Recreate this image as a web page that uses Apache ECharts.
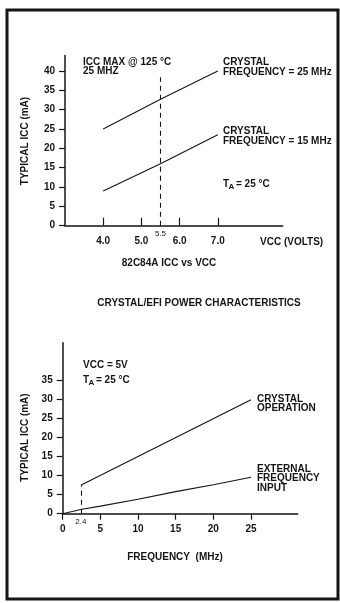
<!DOCTYPE html>
<html>
<head>
<meta charset="utf-8">
<script src="https://cdn.jsdelivr.net/npm/echarts@6/dist/echarts.min.js"></script>
<style>
  html, body { margin: 0; padding: 0; background: #fff; }
  #chart { width: 340px; height: 603px; }
</style>
</head>
<body>
<div id="chart"></div>
<script>
// --- 82C84A ICC vs VCC ---
const vccTicks = [4, 5, 6, 7];
const iccTicksTop = [0, 5, 10, 15, 20, 25, 30, 35, 40];
const crystal25MHz = [[4.0, 25], [5.5, 32.7], [7.0, 40]];
const crystal15MHz = [[4.0, 9], [5.5, 16], [7.0, 23.5]];
const vccMaxMark = 5.5;
const vccMaxMarkTop = 38.4;

// --- Crystal / EFI power vs frequency ---
const freqTicks = [0, 5, 10, 15, 20, 25];
const iccTicksBottom = [0, 5, 10, 15, 20, 25, 30, 35];
const crystalOperation = [[2.4, 7.5], [25, 30]];
const externalInput = [[0, 0], [2.4, 1.1], [5, 2], [10, 3.8], [15, 5.8], [20, 7.6], [25, 9.6]];
const crystalStartFreq = 2.4;

const INK = '#151515';
const FONT = '"Liberation Sans", Arial, sans-serif';
const FS = 10;

function valueX(grid, min, max, ticks, inside, fmt) {
  return {
    gridIndex: grid, type: 'value', min: min, max: max,
    axisLine: { show: true, onZero: false, lineStyle: { color: INK, width: 1.5 } },
    axisTick: { show: true, inside: inside, length: inside ? 8 : 6, customValues: ticks,
                lineStyle: { color: INK, width: 1.2 } },
    axisLabel: { show: true, customValues: ticks, formatter: fmt, margin: 11,
                 color: INK, fontSize: FS, fontFamily: FONT, fontWeight: 'bold' },
    splitLine: { show: false }
  };
}
function valueY(grid, max, ticks) {
  return {
    gridIndex: grid, type: 'value', min: 0, max: max,
    axisLine: { show: true, onZero: false, lineStyle: { color: INK, width: 1.5 } },
    axisTick: { show: true, inside: false, length: 6, customValues: ticks,
                lineStyle: { color: INK, width: 1.2 } },
    axisLabel: { show: true, customValues: ticks, margin: 10,
                 color: INK, fontSize: FS, fontFamily: FONT, fontWeight: 'bold' },
    splitLine: { show: false }
  };
}
function curve(xi, yi, data, mark) {
  const s = {
    type: 'line', xAxisIndex: xi, yAxisIndex: yi, data: data,
    symbol: 'none', silent: true, animation: false,
    lineStyle: { color: INK, width: 1.1 }
  };
  if (mark) s.markLine = mark;
  return s;
}
function dashedMark(x, top, text) {
  return {
    symbol: 'none', silent: true, animation: false,
    lineStyle: { color: INK, width: 1.1, type: [5, 4] },
    label: { show: true, position: 'start', formatter: text, distance: 4,
             color: INK, fontSize: 8, fontFamily: FONT },
    data: [[{ coord: [x, 0] }, { coord: [x, top] }]]
  };
}
function txt(x, y, s, opt) {
  return {
    type: 'text', x: x, y: y, silent: true,
    style: Object.assign({ text: s, fill: INK, font: 'bold ' + FS + 'px ' + FONT,
                           textAlign: 'left', textVerticalAlign: 'middle' }, opt || {})
  };
}
function tempLabel(x, y) {
  return [
    txt(x, y, 'T'),
    txt(x + 5.5, y + 3, 'A', { font: 'bold 8px ' + FONT }),
    txt(x + 13, y, '= 25 °C')
  ];
}
function vtxt(x, y, s) {
  const t = txt(x, y, s, { textAlign: 'center' });
  t.rotation = Math.PI / 2;
  return t;
}

const chart = echarts.init(document.getElementById('chart'), null, { renderer: 'canvas' });
chart.setOption({
  backgroundColor: '#fff',
  animation: false,
  grid: [
    { left: 65, top: 55.5, width: 217.7, height: 170.2 },
    { left: 62.7, top: 342.7, width: 235, height: 171 }
  ],
  xAxis: [
    valueX(0, 3, 8.7, vccTicks, true, v => v.toFixed(1)),
    valueX(1, 0, 31.2, freqTicks, false, v => String(v))
  ],
  yAxis: [
    valueY(0, 44, iccTicksTop),
    valueY(1, 45, iccTicksBottom)
  ],
  series: [
    curve(0, 0, crystal25MHz, dashedMark(vccMaxMark, vccMaxMarkTop, String(vccMaxMark))),
    curve(0, 0, crystal15MHz),
    curve(1, 1, crystalOperation, dashedMark(crystalStartFreq, crystalOperation[0][1], '2.4')),
    curve(1, 1, externalInput)
  ],
  graphic: [
    { type: 'rect', silent: true, shape: { x: 7, y: 10, width: 331, height: 589 },
      style: { fill: 'none', stroke: INK, lineWidth: 3 } },
    // upper panel annotations
    txt(83, 62, 'ICC MAX @ 125 °C'),
    txt(83, 71, '25 MHZ'),
    txt(223, 62, 'CRYSTAL'),
    txt(223, 72, 'FREQUENCY = 25 MHz'),
    txt(223, 131, 'CRYSTAL'),
    txt(223, 141, 'FREQUENCY = 15 MHz'),
    ...tempLabel(223, 184),
    txt(260, 242, 'VCC (VOLTS)'),
    vtxt(25, 141, 'TYPICAL ICC (mA)'),
    txt(169, 263, '82C84A ICC vs VCC', { textAlign: 'center' }),
    txt(199, 303, 'CRYSTAL/EFI POWER CHARACTERISTICS', { textAlign: 'center' }),
    // lower panel annotations
    txt(83, 365, 'VCC = 5V'),
    ...tempLabel(83, 380),
    txt(257, 399, 'CRYSTAL'),
    txt(257, 408.5, 'OPERATION'),
    txt(257, 469, 'EXTERNAL'),
    txt(257, 478.5, 'FREQUENCY'),
    txt(257, 488, 'INPUT'),
    vtxt(25, 437.5, 'TYPICAL ICC (mA)'),
    txt(175, 557, 'FREQUENCY  (MHz)', { textAlign: 'center' })
  ]
});
</script>
</body>
</html>
